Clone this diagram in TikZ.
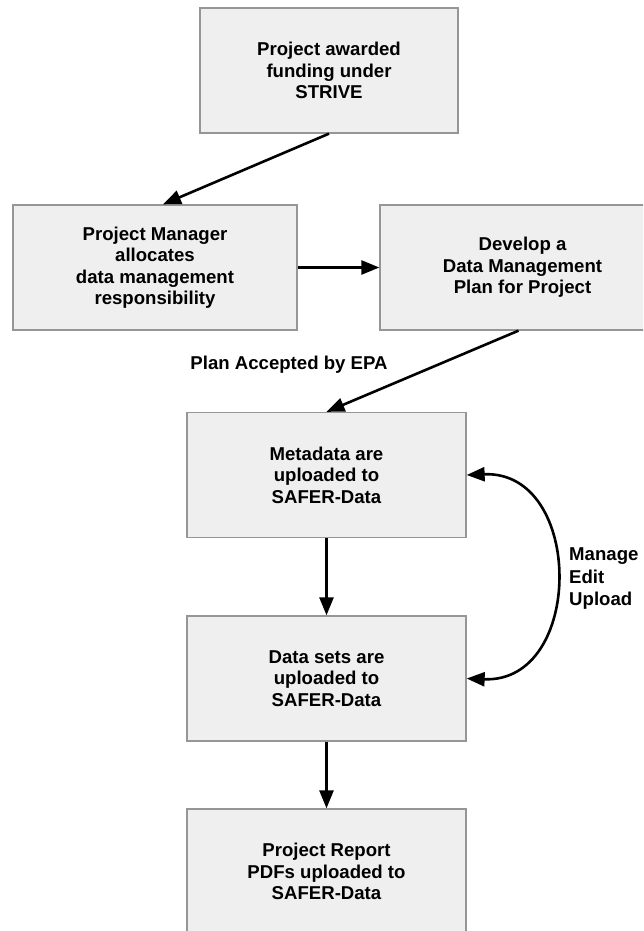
\documentclass[tikz,border=0pt]{standalone}
\usepackage{fontspec}
\setmainfont{Liberation Sans}
\usetikzlibrary{arrows.meta}
\begin{document}
\begin{tikzpicture}[x=1pt,y=-1pt,
  box/.style={draw={rgb,255:red,150;green,150;blue,150}, line width=1.3pt,
    fill={rgb,255:red,239;green,239;blue,239},
    font=\bfseries\fontsize{18.6}{21.5}\selectfont, align=center,
    inner sep=0pt, minimum height=125pt},
  conn/.style={line width=2.6pt, -{Triangle[length=18pt,width=14pt]}},
  lbl/.style={font=\bfseries\fontsize{18.6}{22.5}\selectfont, inner sep=0pt}]
\useasboundingbox (0,0) rectangle (643,931);
\clip (0,0) rectangle (643,931);
\fill[white] (0,0) rectangle (643,931);
\node[box, minimum width=258pt] (b1) at (329,70.5) {Project awarded\\funding under\\STRIVE};
\node[box, minimum width=284pt] (b2) at (155,267.5) {Project Manager\\allocates\\data management\\responsibility};
\node[box, minimum width=285pt] (b3) at (522.5,267.5) {Develop a\\Data Management\\Plan for Project};
\node[box, minimum width=279pt] (b4) at (326.5,475) {Metadata are\\uploaded to\\SAFER-Data};
\node[box, minimum width=279pt] (b5) at (326.5,678.5) {Data sets are\\uploaded to\\SAFER-Data};
\node[box, minimum width=279pt] (b6) at (326.5,871.5) {Project Report\\PDFs uploaded to\\SAFER-Data};
\draw[conn] (b1.south) -- ([xshift=8pt]b2.north);
\draw[conn] (b2.east) -- (b3.west);
\draw[conn] ([xshift=-4pt]b3.south) -- (b4.north);
\draw[conn] (b4.south) -- (b5.north);
\draw[conn] (b5.south) -- (b6.north);
\draw[conn, {Triangle[length=18pt,width=14pt]}-{Triangle[length=18pt,width=14pt]}]
  (b4.east) .. controls +(118,-5) and +(118,5) .. (b5.east);
\node[lbl] (acc) at (289,365) {Plan Accepted by EPA};
\node[lbl, anchor=west, align=left] (meu) at (569,579) {Manage\\Edit\\Upload};
\end{tikzpicture}
\end{document}
